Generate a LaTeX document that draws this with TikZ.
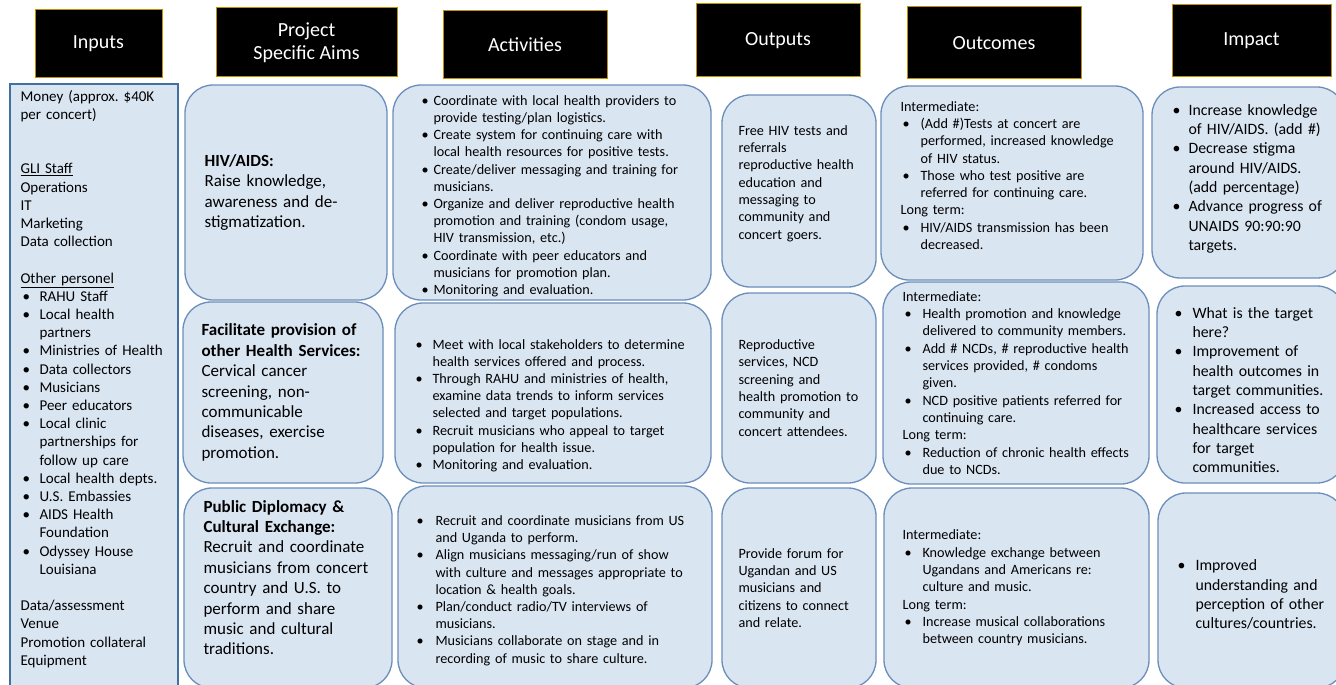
\documentclass[tikz,border=0pt]{standalone}
\usepackage{fontspec}
\setmainfont{Carlito}
\frenchspacing
\definecolor{cellfill}{HTML}{DAE5F2}
\definecolor{cellline}{HTML}{6C8EBA}
\definecolor{inline}{HTML}{41719C}
\definecolor{hdrline}{HTML}{BF9000}
\newlength{\bpre}
\newlength{\bhang}
% bullet line with hanging indent, \nl breaks inside it
\newcommand{\bul}{\par\noindent\hangindent=\bhang\hangafter=1\hbox to\bhang{\hskip\bpre\textbullet\hfil}\ignorespaces}
\newcommand{\nl}{\newline}
\tikzset{
  hdr/.style={draw=hdrline, fill=black, line width=1pt, text=white, align=center, inner sep=0pt,
    font=\fontsize{20}{23.5}\selectfont},
  cell/.style={draw=cellline, fill=cellfill, line width=1.3pt, rounded corners=28pt, inner sep=0pt},
  inbox/.style={draw=inline, fill=cellfill, line width=1.3pt, inner sep=0pt},
  txt/.style={inner sep=0pt, align=left, anchor=west},
  bullets/.style 2 args={execute at begin node={\setlength{\bpre}{#1}\setlength{\bhang}{#2}}},
  intext/.style={txt, text width=158pt, font=\fontsize{15}{18.2}\selectfont},
  aimtext/.style={txt, text width=180pt, font=\fontsize{17}{20.4}\selectfont},
  acttext/.style={txt, text width=280pt, font=\fontsize{14.2}{17.2}\selectfont},
  outtext/.style={txt, text width=134pt, font=\fontsize{14.2}{17.3}\selectfont},
  octext/.style={txt, text width=240pt, font=\fontsize{14.2}{17.3}\selectfont, bullets={2pt}{20pt}},
  imtext/.style={txt, text width=160pt, font=\fontsize{15.8}{19.3}\selectfont},
}
\begin{document}
\begin{tikzpicture}[x=1pt, y=-1pt]
\useasboundingbox (0,0) rectangle (1336,685);
\clip (0,0) rectangle (1336,685);
\fill[white] (0,0) rectangle (1336,685);

% column heads
\node[hdr, minimum width=127pt, minimum height=68pt] (hin) at (98.5,44) {Inputs};
\node[hdr, minimum width=181pt, minimum height=69pt] (haim) at (306.5,42.5) {Project\\Specific Aims};
\node[hdr, minimum width=164pt, minimum height=68pt] (hact) at (525,45) {Activities};
\node[hdr, minimum width=164pt, minimum height=73pt] (hout) at (778,40.5) {Outputs};
\node[hdr, minimum width=174pt, minimum height=72pt] (hoc) at (994,43) {Outcomes};
\node[hdr, minimum width=159pt, minimum height=72pt] (himp) at (1251.5,41) {Impact};

% inputs
\node[inbox, minimum width=168pt, minimum height=616pt] (inputs) at (94,392) {};
\node[intext, bullets={2pt}{19pt}] (intxt) at ([xshift=11pt, yshift=13pt]inputs.west)
  {Money (approx. \$40K\\per concert)\par\vspace{2\baselineskip}
   \underline{GLI Staff}\\Operations\\IT\\Marketing\\Data collection\par\vspace{\baselineskip}
   \underline{Other personel}
   \bul RAHU Staff
   \bul Local health\nl partners
   \bul Ministries of Health
   \bul Data collectors
   \bul Musicians
   \bul Peer educators
   \bul Local clinic\nl partnerships for\nl follow up care
   \bul Local health depts.
   \bul U.S. Embassies
   \bul AIDS Health\nl Foundation
   \bul Odyssey House\nl Louisiana\par\vspace{\baselineskip}
   \noindent Data/assessment\\Venue\\Promotion collateral\\Equipment};

% project specific aims
\node[cell, minimum width=202pt, minimum height=215pt] (aim1) at (286,192.5) {};
\node[aimtext] (aim1txt) at ([xshift=20pt]aim1.west)
  {\textbf{HIV/AIDS:}\\Raise knowledge,\\awareness and de-\\stigmatization.};
\node[cell, minimum width=200pt, minimum height=181pt] (aim2) at (283,392.5) {};
\node[aimtext] (aim2txt) at ([xshift=19pt]aim2.west)
  {\textbf{Facilitate provision of}\\\textbf{other Health Services:}\\Cervical cancer\\screening, non-\\communicable\\diseases, exercise\\promotion.};
\node[cell, minimum width=208pt, minimum height=200pt] (aim3) at (288,588) {};
\node[aimtext] (aim3txt) at ([xshift=20pt, yshift=10.5pt]aim3.west)
  {\textbf{Public Diplomacy \&}\\\textbf{Cultural Exchange:}\\Recruit and coordinate\\musicians from concert\\country and U.S. to\\perform and share\\music and cultural\\traditions.};

% activities
\node[cell, minimum width=318pt, minimum height=215pt] (act1) at (552,192.5) {};
\node[acttext, bullets={0pt}{12pt}] (act1txt) at ([xshift=29pt]act1.west)
  {\bul Coordinate with local health providers to\nl provide testing/plan logistics.
   \bul Create system for continuing care with\nl local health resources for positive tests.
   \bul Create/deliver messaging and training for\nl musicians.
   \bul Organize and deliver reproductive health\nl promotion and training (condom usage,\nl HIV transmission, etc.)
   \bul Coordinate with peer educators and\nl musicians for promotion plan.
   \bul Monitoring and evaluation.\par};
\node[cell, minimum width=316pt, minimum height=180pt] (act2) at (553,393) {};
\node[acttext, bullets={0pt}{17pt}] (act2txt) at ([xshift=21pt, yshift=-9pt]act2.west)
  {\bul Meet with local stakeholders to determine\nl health services offered and process.
   \bul Through RAHU and ministries of health,\nl examine data trends to inform services\nl selected and target populations.
   \bul Recruit musicians who appeal to target\nl population for health issue.
   \bul Monitoring and evaluation.\par};
\node[cell, minimum width=314pt, minimum height=202pt] (act3) at (555,587) {};
\node[acttext, bullets={0pt}{19pt}] (act3txt) at ([xshift=19pt]act3.west)
  {\bul Recruit and coordinate musicians from US\nl and Uganda to perform.
   \bul Align musicians messaging/run of show\nl with culture and messages appropriate to\nl location \& health goals.
   \bul Plan/conduct radio/TV interviews of\nl musicians.
   \bul Musicians collaborate on stage and in\nl recording of music to share culture.\par};

% outputs
\node[cell, minimum width=154pt, minimum height=192pt] (out1) at (799,191) {};
\node[outtext] (out1txt) at ([xshift=17pt, yshift=7.5pt]out1.west)
  {Free HIV tests and\\referrals\\reproductive health\\education and\\messaging to\\community and\\concert goers.};
\node[cell, minimum width=154pt, minimum height=190pt] (out2) at (799,388) {};
\node[outtext] (out2txt) at ([xshift=17pt]out2.west)
  {Reproductive\\services, NCD\\screening and\\health promotion to\\community and\\concert attendees.};
\node[cell, minimum width=154pt, minimum height=200pt] (out3) at (799,588) {};
\node[outtext] (out3txt) at ([xshift=17pt]out3.west)
  {Provide forum for\\Ugandan and US\\musicians and\\citizens to connect\\and relate.};

% outcomes
\node[cell, minimum width=262pt, minimum height=194pt] (oc1) at (1012,183) {};
\node[octext] (oc1txt) at ([xshift=20pt, yshift=7.5pt]oc1.west)
  {Intermediate:
   \bul (Add \#)Tests at concert are\nl performed, increased knowledge\nl of HIV status.
   \bul Those who test positive are\nl referred for continuing care.
   \par\noindent Long term:
   \bul HIV/AIDS transmission has been\nl decreased.\par};
\node[cell, minimum width=266pt, minimum height=202pt] (oc2) at (1016,383) {};
\node[octext] (oc2txt) at ([xshift=20pt]oc2.west)
  {Intermediate:
   \bul Health promotion and knowledge\nl delivered to community members.
   \bul Add \# NCDs, \# reproductive health\nl services provided, \# condoms\nl given.
   \bul NCD positive patients referred for\nl continuing care.
   \par\noindent Long term:
   \bul Reduction of chronic health effects\nl due to NCDs.\par};
\node[cell, minimum width=265pt, minimum height=200pt] (oc3) at (1016.5,588) {};
\node[octext] (oc3txt) at ([xshift=19pt]oc3.west)
  {Intermediate:
   \bul Knowledge exchange between\nl Ugandans and Americans re:\nl culture and music.
   \par\noindent Long term:
   \bul Increase musical collaborations\nl between country musicians.\par};

% impact
\node[cell, minimum width=193pt, minimum height=191pt] (im1) at (1248.5,182.5) {};
\node[imtext, bullets={0pt}{16pt}] (im1txt) at ([xshift=21pt, yshift=8pt]im1.west)
  {\bul Increase knowledge\nl of HIV/AIDS. (add \#)
   \bul Decrease stigma\nl around HIV/AIDS.\nl (add percentage)
   \bul Advance progress of\nl UNAIDS 90:90:90\nl targets.\par};
\node[cell, minimum width=188pt, minimum height=197pt] (im2) at (1251,384.5) {};
\node[imtext, bullets={0pt}{18pt}] (im2txt) at ([xshift=18pt, yshift=-1.5pt]im2.west)
  {\bul What is the target\nl here?
   \bul Improvement of\nl health outcomes in\nl target communities.
   \bul Increased access to\nl healthcare services\nl for target\nl communities.\par};
\node[cell, minimum width=187pt, minimum height=195pt] (im3) at (1251.5,590.5) {};
\node[imtext, bullets={0pt}{18pt}] (im3txt) at ([xshift=20pt]im3.west)
  {\bul Improved\nl understanding and\nl perception of other\nl cultures/countries.\par};
\end{tikzpicture}
\end{document}
